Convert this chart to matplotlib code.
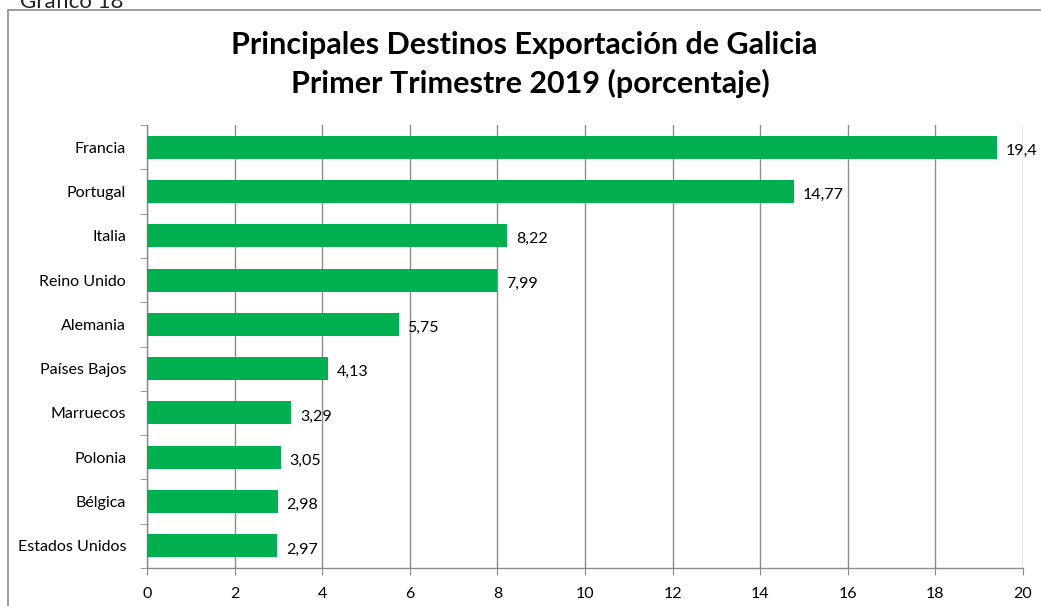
"""
Principales destinos de exportación de Galicia, primer trimestre 2019.
Gráfico de barras horizontales con etiquetas de porcentaje.
"""

import matplotlib
matplotlib.use("Agg")
import matplotlib.pyplot as plt
from matplotlib.patches import Rectangle
import numpy as np

paises = ["Francia", "Portugal", "Italia", "Reino Unido", "Alemania",
          "Países Bajos", "Marruecos", "Polonia", "Bélgica", "Estados Unidos"]
porcentajes = [19.4, 14.77, 8.22, 7.99, 5.75, 4.13, 3.29, 3.05, 2.98, 2.97]
etiquetas = ["19,4", "14,77", "8,22", "7,99", "5,75",
             "4,13", "3,29", "3,05", "2,98", "2,97"]
ticks_x = [0, 2, 4, 6, 8, 10, 12, 14, 16, 18, 20]

plt.rcParams["font.family"] = ["Lato", "DejaVu Sans"]

GRIS = "#8c8c8c"
VERDE = "#00b050"


def plot_destinos():
    fig = plt.figure(figsize=(10.41, 6.06), dpi=100)
    W, H = 1041, 606

    # marco del gráfico
    fig.patches.append(Rectangle((8 / W, -0.2), 2.0, 1.2 - 10 / H,
                                 transform=fig.transFigure, fill=False,
                                 edgecolor=GRIS, linewidth=1.2))
    fig.text(20 / W, 1 - 8 / H, "Gráfico 18", fontsize=16, ha="left",
             va="baseline", color="#222222")

    fig.text(524 / W, 1 - 45 / H, "Principales Destinos Exportación de Galicia",
             fontsize=22, fontweight="bold", ha="center", va="center")
    fig.text(530 / W, 1 - 83 / H, "Primer Trimestre 2019 (porcentaje)",
             fontsize=22, fontweight="bold", ha="center", va="center")

    ax = fig.add_axes([147 / W, 1 - 568 / H, (1023 - 147) / W, (568 - 125) / H])
    y = np.arange(len(paises))[::-1]
    ax.barh(y, porcentajes, height=0.52, color=VERDE, zorder=3)
    for yi, v, t in zip(y, porcentajes, etiquetas):
        ax.text(v + 0.2, yi - 0.08, t, fontsize=11.5, ha="left", va="center",
                zorder=4)

    ax.set_xlim(0, 20)
    ax.set_ylim(-0.5, len(paises) - 0.5)
    ax.set_xticks(ticks_x)
    ax.set_xticklabels([str(t) for t in ticks_x], fontsize=11.5)
    ax.set_yticks(y)
    ax.set_yticklabels(paises, fontsize=11.5)
    ax.set_yticks(np.arange(-0.5, len(paises), 1), minor=True)
    ax.tick_params(axis="y", which="major", length=0, pad=15)
    ax.tick_params(axis="y", which="minor", length=5, color=GRIS)
    ax.tick_params(axis="x", length=5, color=GRIS, pad=9)
    ax.grid(axis="x", color=GRIS, linewidth=1, zorder=0)

    for lado in ["top", "right"]:
        ax.spines[lado].set_visible(False)
    for lado in ["left", "bottom"]:
        ax.spines[lado].set_color(GRIS)
        ax.spines[lado].set_linewidth(1)

    fig.savefig("out.png", dpi=100)


if __name__ == "__main__":
    plot_destinos()
